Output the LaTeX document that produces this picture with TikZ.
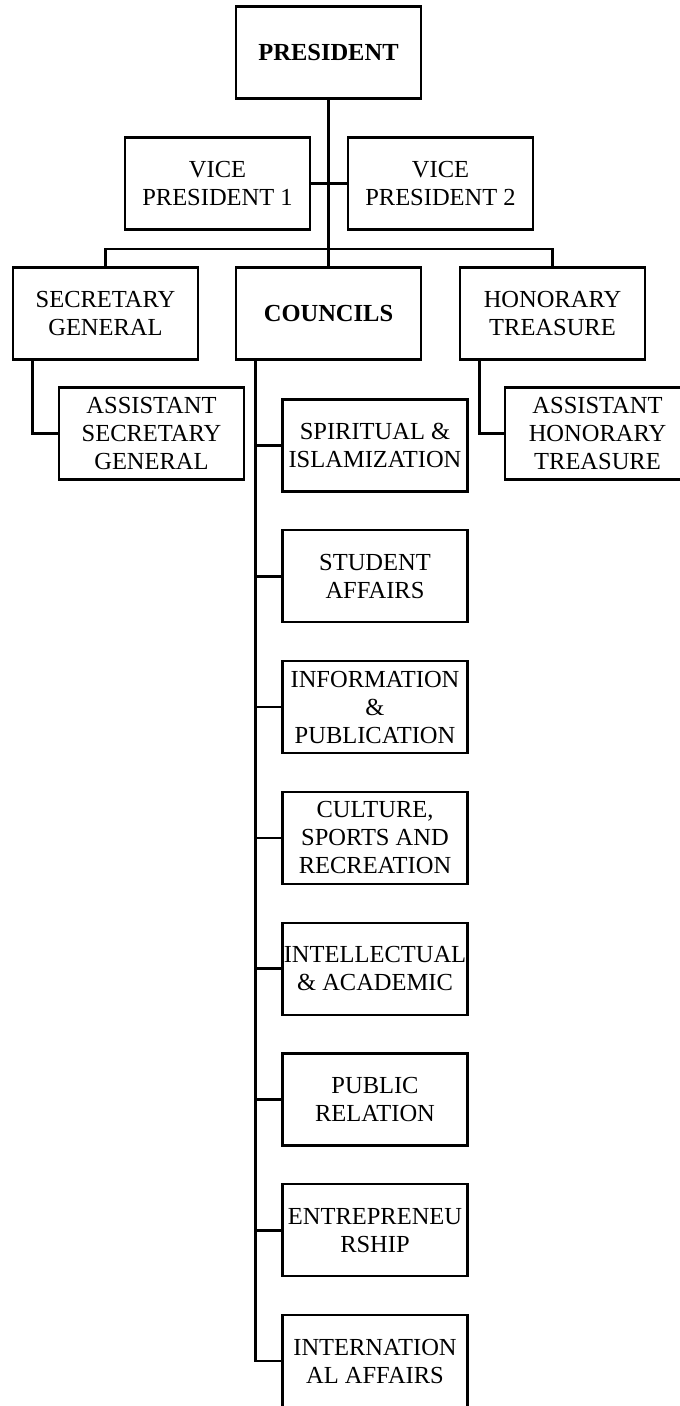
\documentclass[tikz,border=0pt]{standalone}
\usepackage{fontspec}
\setmainfont{Liberation Serif}
\begin{document}
\begin{tikzpicture}[x=1pt,y=-1pt]
        \tikzstyle{box} = [rectangle, draw=black, line width=2.2pt, text=black, align=center, inner sep=0pt, minimum width=185pt, minimum height=92pt, font=\fontsize{24.5}{28}\selectfont]
        \tikzstyle{line} = [draw=black, line width=2.6pt]
        \clip (0,0) rectangle (680,1406);
        % top of the chart
        \node[box,font=\fontsize{24.5}{28}\selectfont\bfseries] (pres) at (328.5,52.5) {PRESIDENT};
        \node[box] (vp1) at (217.5,183.5) {VICE\\PRESIDENT 1};
        \node[box] (vp2) at (440.5,183.5) {VICE\\PRESIDENT 2};
        \node[box] (secgen) at (105.5,313.5) {SECRETARY\\GENERAL};
        \node[box,font=\fontsize{24.5}{28}\selectfont\bfseries] (councils) at (328.5,313.5) {COUNCILS};
        \node[box] (treas) at (552.5,313.5) {HONORARY\\TREASURE};
        \node[box] (asstsec) at (151.5,433.5) {ASSISTANT\\SECRETARY\\GENERAL};
        \node[box] (asstreas) at (597.5,433.5) {ASSISTANT\\HONORARY\\TREASURE};
        % councils
        \node[box] (spirit) at (375,445.5) {SPIRITUAL \&\\ISLAMIZATION};
        \node[box] (student) at (375,576.3) {STUDENT\\AFFAIRS};
        \node[box] (info) at (375,707.1) {INFORMATION\\\&\\PUBLICATION};
        \node[box] (culture) at (375,837.9) {CULTURE,\\SPORTS AND\\RECREATION};
        \node[box] (intel) at (375,968.7) {INTELLECTUAL\\\& ACADEMIC};
        \node[box] (pubrel) at (375,1099.5) {PUBLIC\\RELATION};
        \node[box] (entre) at (375,1230.3) {ENTREPRENEU\\RSHIP};
        \node[box] (intl) at (375,1361.1) {INTERNATION\\AL AFFAIRS};
        \coordinate (bus) at (328.5,249);
        \draw[line] (pres) to (councils);
        \draw[line] (vp1) to (vp2);
        \draw[line] (secgen.north) |- (bus) -| (treas.north);
        \draw[line] ([xshift=-73pt]secgen.south) |- (asstsec.west);
        \draw[line] ([xshift=-73pt]treas.south) |- (asstreas.west);
        \draw[line] ([xshift=-73pt]councils.south) |- (intl.west);
        \draw[line] ([xshift=-73pt]councils.south) |- (spirit.west);
        \draw[line] ([xshift=-73pt]councils.south) |- (student.west);
        \draw[line] ([xshift=-73pt]councils.south) |- (info.west);
        \draw[line] ([xshift=-73pt]councils.south) |- (culture.west);
        \draw[line] ([xshift=-73pt]councils.south) |- (intel.west);
        \draw[line] ([xshift=-73pt]councils.south) |- (pubrel.west);
        \draw[line] ([xshift=-73pt]councils.south) |- (entre.west);
    \end{tikzpicture}
\end{document}
